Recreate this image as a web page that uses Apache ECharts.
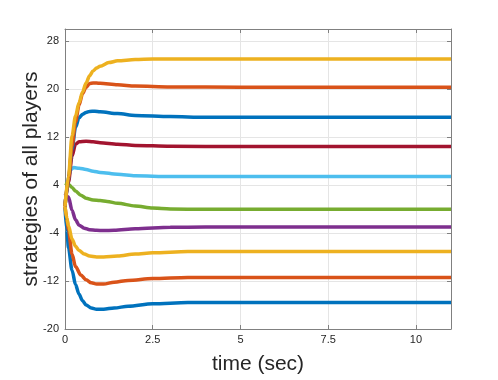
<!DOCTYPE html>
<html>
<head>
<meta charset="utf-8">
<script src="https://cdn.jsdelivr.net/npm/echarts@6/dist/echarts.min.js"></script>
<style>
  html, body { margin: 0; padding: 0; background: #fff; }
  #chart { width: 498px; height: 380px; }
</style>
</head>
<body>
<div id="chart"></div>
<script>
// strategies of players vs time, [t, value]
const player1 = [[0,0.3],[0.05,-3.5],[0.1,-6.5],[0.2,-10.2],[0.3,-12.6],[0.4,-14.2],[0.5,-15.3],[0.6,-16.0],[0.75,-16.5],[0.9,-16.7],[1.1,-16.7],[1.4,-16.5],[1.8,-16.2],[2.5,-15.8],[3.5,-15.6],[11,-15.6]]
const player2 = [[0,0.5],[0.05,-1.5],[0.1,-3.5],[0.2,-7.5],[0.3,-9.6],[0.45,-11],[0.6,-11.8],[0.75,-12.3],[0.9,-12.5],[1.1,-12.5],[1.4,-12.2],[1.8,-11.9],[2.5,-11.6],[3.5,-11.4],[11,-11.4]]
const player3 = [[0,0.5],[0.05,-1.5],[0.1,-2.8],[0.2,-5],[0.3,-6.2],[0.4,-6.9],[0.55,-7.5],[0.7,-7.85],[0.9,-8.0],[1.1,-8.0],[1.5,-7.85],[2,-7.5],[2.5,-7.3],[3.5,-7.1],[11,-7.1]]
const player4 = [[0,2.6],[0.1,2.0],[0.2,-0.2],[0.3,-1.8],[0.4,-2.7],[0.55,-3.2],[0.7,-3.45],[0.9,-3.55],[1.1,-3.6],[1.4,-3.55],[2,-3.3],[3,-3.05],[4,-3.0],[11,-3.0]]
const player5 = [[0,4.3],[0.1,4.1],[0.2,3.6],[0.3,3.0],[0.45,2.3],[0.6,1.8],[0.8,1.5],[1.0,1.4],[1.2,1.25],[1.5,0.95],[2,0.5],[2.5,0.15],[3,0],[4,-0.05],[11,-0.05]]
const player6 = [[0,0.5],[0.05,3],[0.1,5.2],[0.15,6.5],[0.25,6.9],[0.4,6.8],[0.6,6.6],[0.8,6.3],[1.0,6.1],[1.5,5.8],[2,5.55],[3,5.4],[11,5.4]]
const player7 = [[0,0.5],[0.1,4.5],[0.2,8.8],[0.3,10.8],[0.4,11.2],[0.6,11.3],[0.8,11.2],[1.0,11.05],[1.5,10.8],[2,10.6],[3,10.45],[5,10.4],[11,10.4]]
const player8 = [[0,0.5],[0.1,5],[0.2,10],[0.3,13.6],[0.4,15.2],[0.5,15.8],[0.6,16.1],[0.7,16.25],[0.85,16.3],[1.0,16.2],[1.5,15.9],[2,15.6],[3,15.4],[4,15.3],[11,15.3]]
const player9 = [[0,0.5],[0.1,5],[0.2,10.5],[0.3,14.5],[0.4,17.3],[0.5,19.2],[0.6,20.3],[0.7,20.9],[0.8,21.0],[0.9,21.0],[1.0,20.95],[1.5,20.7],[2,20.5],[3,20.35],[5,20.3],[11,20.3]]
const player10 = [[0,0.5],[0.1,5.5],[0.2,12.2],[0.3,15.5],[0.4,17.7],[0.5,19.5],[0.6,21],[0.7,22.2],[0.8,23],[0.9,23.5],[1.0,23.8],[1.25,24.4],[1.5,24.7],[2,24.9],[2.5,25],[11,25]]

const players = [player1, player2, player3, player4, player5, player6, player7, player8, player9, player10]
const colors = ['#0072BD', '#D95319', '#EDB120', '#7E2F8E', '#77AC30', '#4DBEEE', '#A2142F', '#0072BD', '#D95319', '#EDB120']

const axisColor = '#808080'
const textColor = '#262626'
const font = 'Liberation Sans, Arial, sans-serif'

const chart = echarts.init(document.getElementById('chart'))

const xBase = {
  type: 'value',
  min: 0,
  max: 11,
  interval: 2.5,
  axisLine: { show: true, onZero: false, lineStyle: { color: axisColor, width: 1 } },
  axisTick: { show: true, inside: true, length: 4, lineStyle: { color: axisColor } }
}
const yBase = {
  type: 'value',
  min: -20,
  max: 30,
  interval: 8,
  axisLine: { show: true, onZero: false, lineStyle: { color: axisColor, width: 1 } },
  axisTick: { show: true, inside: true, length: 4, lineStyle: { color: axisColor } }
}

const option = {
  backgroundColor: '#fff',
  animation: false,
  grid: { left: 65, right: 47, top: 29, bottom: 48 },
  xAxis: [
    {
      ...xBase,
      position: 'bottom',
      name: 'time (sec)',
      nameLocation: 'middle',
      nameGap: 25,
      nameMoveOverlap: false,
      nameTextStyle: { color: textColor, fontSize: 21, fontFamily: font },
      axisLabel: { color: textColor, fontSize: 11, fontFamily: font, margin: 5, showMaxLabel: false },
      splitLine: { show: true, lineStyle: { color: '#e5e5e5', width: 1 } }
    },
    {
      ...xBase,
      position: 'top',
      axisLabel: { show: false },
      splitLine: { show: false }
    }
  ],
  yAxis: [
    {
      ...yBase,
      position: 'left',
      name: 'strategies of all players',
      nameLocation: 'middle',
      nameGap: 23,
      nameMoveOverlap: false,
      nameTextStyle: { color: textColor, fontSize: 21, fontFamily: font },
      axisLabel: { color: textColor, fontSize: 11, fontFamily: font, margin: 6, showMaxLabel: false },
      splitLine: { show: true, lineStyle: { color: '#e5e5e5', width: 1 } }
    },
    {
      ...yBase,
      position: 'right',
      axisLabel: { show: false },
      splitLine: { show: false }
    }
  ],
  series: players.map((data, i) => ({
    type: 'line',
    xAxisIndex: 0,
    yAxisIndex: 0,
    data: data,
    smooth: 0.3,
    smoothMonotone: 'x',
    symbol: 'none',
    lineStyle: { color: colors[i], width: 3.5 },
    z: 2 + i
  }))
}

chart.setOption(option)
</script>
</body>
</html>
